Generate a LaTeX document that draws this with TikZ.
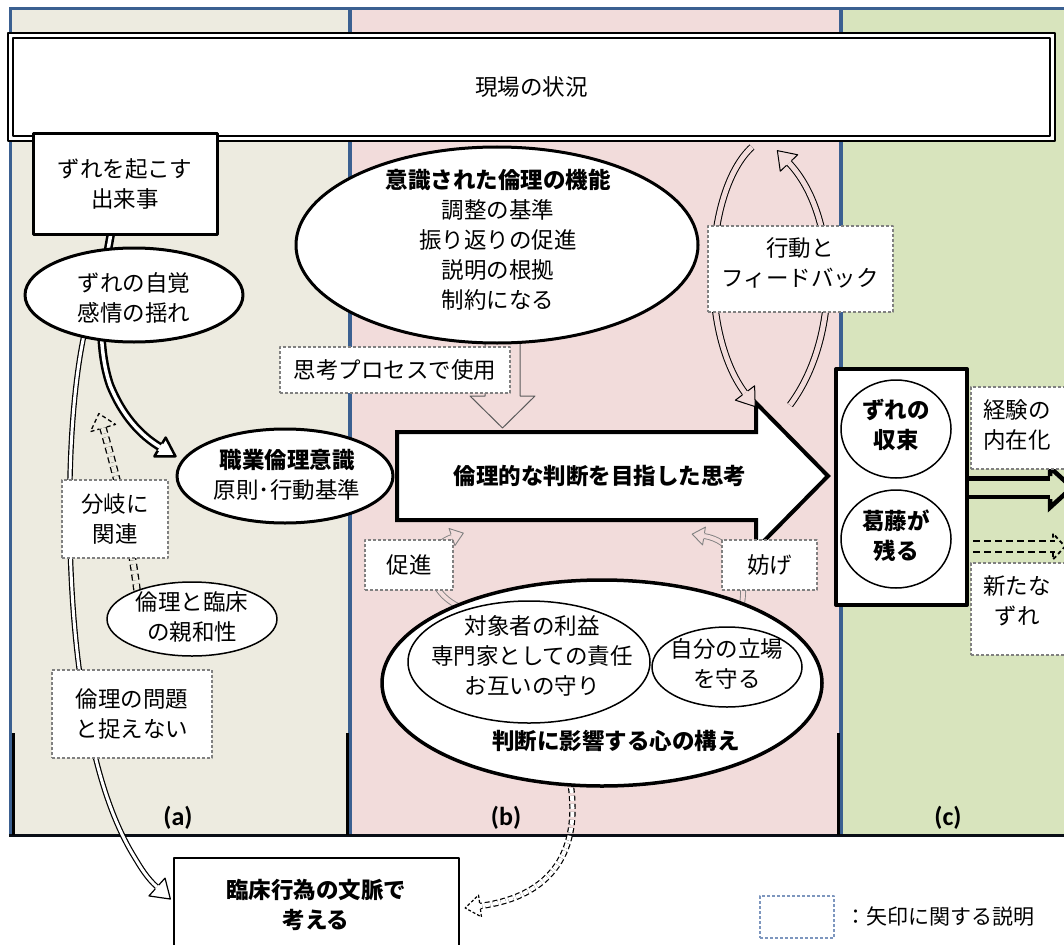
\documentclass[tikz,border=0pt]{standalone}
\usepackage{fontspec}
\setmainfont{Noto Sans CJK JP}
\newfontfamily\labfont{Carlito}
\usetikzlibrary{shapes.geometric}
\definecolor{bgA}{RGB}{237,235,224}
\definecolor{bgB}{RGB}{242,220,219}
\definecolor{bgC}{RGB}{216,228,189}
\definecolor{frameblue}{RGB}{59,96,145}
\definecolor{dashgray}{RGB}{128,128,128}
\definecolor{legblue}{RGB}{125,150,190}
\newcommand\arrhead[7]{\begin{scope}[shift={(#1,#2)},rotate=#3]\path[#7] (0,#6) -- (0,#5) -- (#4,0) -- (0,-#5) -- (0,-#6);\end{scope}}
\begin{document}
\begin{tikzpicture}[x=1pt,y=-1pt,line join=round,
  txt/.style={font=\fontsize{22.5}{30}\selectfont, align=center, inner sep=0pt},
  btxt/.style={font=\fontsize{22.5}{30}\selectfont\bfseries, align=center, inner sep=0pt},
  shp/.style={draw, fill=white, inner sep=0pt},
  ell/.style={shp, ellipse},
  desc/.style={draw=dashgray, dash pattern=on 3pt off 2pt, line width=1.1pt, fill=white, inner sep=0pt},
  lab/.style={font=\labfont\fontsize{26}{28}\selectfont\bfseries, inner sep=0pt}]
\useasboundingbox (0,0) rectangle (1064,944);
\clip (0,0) rectangle (1064,944);
\fill[white] (0,0) rectangle (1064,944);
% panels
\fill[bgA] (10,9) rectangle (350,835);
\fill[bgB] (350,9) rectangle (841,835);
\fill[bgC] (841,9) rectangle (1064,835);
\draw[frameblue, line width=3pt] (9,9) -- (1064,9);
\draw[frameblue, line width=3.5pt] (10.5,9) -- (10.5,835);
\draw[frameblue, line width=3.5pt] (350,9) -- (350,835);
\draw[frameblue, line width=3.5pt] (841,9) -- (841,835);
\draw[black!85!frameblue, line width=3pt] (9,835) -- (1064,835);
\draw[black, line width=3pt] (13,733) -- (13,835);
\draw[black, line width=3pt] (347,733) -- (347,835);
\draw[black, line width=3pt] (838,733) -- (838,835);
% top box
\node[shp, line width=2.5pt, minimum width=1047, minimum height=108, txt] (sit) at (531.5,87) {現場の状況};
\draw[line width=1.2pt] (13,38) rectangle (1050,136);
% gray down arrow
\draw[dashgray!70!black, line width=1pt] (485,340) -- (485,396) -- (470,396) -- (502.5,428) -- (535,396) -- (520,396) -- (520,340);
% arrow A
\draw[line width=2.5pt, double=white, double distance=3.5pt] (112,228) .. controls (98,300) and (98,350) .. (110,385) .. controls (122,415) and (140,435) .. (160,447);
\arrhead{160}{447}{-31}{18}{11}{4.25}{draw, line width=2.5pt, fill=white}
% arrow B
\draw[line width=1.2pt, double=white, double distance=3pt] (84,335) .. controls (66,420) and (66,560) .. (78,660) .. controls (88,740) and (105,810) .. (135,858) .. controls (141,868) and (147,878) .. (157,887);
\arrhead{157}{887}{-42}{18}{12}{2.7}{draw, line width=1.2pt, fill=white}
% arrow C
\draw[line width=1.3pt, double=bgA, double distance=5pt, dash pattern=on 6pt off 4pt] (137,590) .. controls (128,520) and (115,470) .. (103,428);
\arrhead{103}{428}{106}{15}{13}{3.8}{draw, line width=1.3pt, dash pattern=on 4pt off 3pt}
% arrow D
\draw[line width=1.2pt, double=white, double distance=4pt, dash pattern=on 5pt off 3pt] (570,780) .. controls (580,840) and (562,895) .. (480,906);
\arrhead{480}{906}{187.6}{15}{11}{3.2}{draw, line width=1.2pt, dash pattern=on 3pt off 2pt, fill=white}
% promote / hinder arrows
\draw[dashgray, line width=0.9pt, double=bgB, double distance=4pt] (458,606) .. controls (425,590) and (420,548) .. (452,537);
\arrhead{452}{537}{19}{12}{9}{2.9}{draw=dashgray, line width=0.9pt, fill=bgB}
\draw[dashgray, line width=0.9pt, double=bgB, double distance=4pt] (742,604) .. controls (748,565) and (730,540) .. (704,536);
\arrhead{704}{536}{171}{12}{9}{2.9}{draw=dashgray, line width=0.9pt, fill=bgB}
% right arrows
\draw[line width=4.5pt, double=bgC, double distance=14pt] (960,487.5) -- (1052,487.5);
\arrhead{1050}{487.5}{0}{22}{20}{11.5}{draw, line width=4.5pt, fill=bgC, line join=miter}
\draw[line width=1.8pt, double=bgC, double distance=9.5pt, dash pattern=on 7pt off 4pt] (962,546.5) -- (1055,546.5);
\arrhead{1053}{546.5}{0}{12}{13}{6.5}{draw, line width=1.8pt, dash pattern=on 4pt off 3pt}
% big arrow
\draw[line width=4pt, fill=white, line join=miter] (397,432) -- (756,432) -- (756,403) -- (828,476) -- (756,549) -- (756,520) -- (397,520) -- cycle;
\node[btxt] (bigT) at (600,476) {倫理的な判断を目指した思考};
% feedback arcs
\draw[line width=1pt, double=bgB, double distance=5pt] (752,147) .. controls (705,190) and (698,330) .. (745,393);
\arrhead{745}{393}{-53.3}{17}{12}{3.5}{draw, line width=1pt, fill=bgB}
\draw[line width=1pt, double=bgB, double distance=5pt] (790,405) .. controls (842,335) and (838,215) .. (789,163);
\arrhead{789}{163}{133.3}{17}{12}{3.5}{draw, line width=1pt, fill=bgB}
% column (a)
\node[shp, line width=3pt, minimum width=184, minimum height=100, txt] (ev) at (125,184) {ずれを起こす\\出来事};
\node[ell, line width=3pt, minimum width=218, minimum height=94] (aware) at (134,295) {};
\node[txt] (awareT) at (134,298) {ずれの自覚\\感情の揺れ};
\node[ell, line width=3pt, minimum width=216, minimum height=94] (prof) at (285,476) {};
\node[txt] (profT) at (287,475) {\textbf{職業倫理意識}\\原則･行動基準};
\node[ell, line width=1.5pt, minimum width=170, minimum height=74] (rel) at (192,619) {};
\node[txt] (relT) at (192,617) {倫理と臨床\\の親和性};
\node[desc, minimum width=106, minimum height=78, txt] (branch) at (115,519) {分岐に\\関連};
\node[desc, minimum width=160, minimum height=88, txt] (notprob) at (132,714) {倫理の問題\\と捉えない};
\node[shp, line width=2pt, minimum width=285, minimum height=112] (clinic) at (316.5,914) {};
\node[btxt] (clinicT) at (316,905) {臨床行為の文脈で\\考える};
% column (b)
\node[ell, line width=3pt, minimum width=402, minimum height=196] (cons) at (497,245) {};
\node[txt] (consT) at (498,240) {\textbf{意識された倫理の機能}\\調整の基準\\振り返りの促進\\説明の根拠\\制約になる};
\node[desc, minimum width=230, minimum height=46, txt] (think) at (395,370) {思考プロセスで使用};
\node[desc, minimum width=185, minimum height=86] (fb) at (800.5,269) {};
\node[txt] (fbT) at (800,263) {行動と\\フィードバック};
\node[desc, minimum width=88, minimum height=50, txt] (prom) at (409,565) {促進};
\node[desc, minimum width=95, minimum height=50, txt] (hind) at (769.5,565) {妨げ};
\node[ell, line width=3.5pt, minimum width=440, minimum height=206] (mind) at (602,683) {};
\node[ell, line width=1.5pt, minimum width=242, minimum height=122] (in1) at (529,662) {};
\node[txt] (in1T) at (532,656) {対象者の利益\\専門家としての責任\\お互いの守り};
\node[ell, line width=1.5pt, minimum width=150, minimum height=80] (in2) at (727,667) {};
\node[txt] (in2T) at (727,664) {自分の立場\\を守る};
\node[btxt] (mindT) at (616,741) {判断に影響する心の構え};
% column (c)
\node[shp, line width=4pt, minimum width=131, minimum height=236] (res) at (901.5,487) {};
\node[ell, line width=1.5pt, minimum width=110, minimum height=98] (c1) at (896,429) {};
\node[btxt] (c1T) at (896,425) {ずれの\\収束};
\node[ell, line width=1.5pt, minimum width=110, minimum height=98] (c2) at (896,539) {};
\node[btxt] (c2T) at (896,536) {葛藤が\\残る};
\node[desc, minimum width=104, minimum height=82] (intern) at (1023,428) {};
\node[txt] (internT) at (1017,425) {経験の\\内在化};
\node[desc, minimum width=104, minimum height=92] (newd) at (1023,609) {};
\node[txt] (newdT) at (1017,601) {新たな\\ずれ};
% legend
\node[draw=legblue, dash pattern=on 3pt off 2pt, line width=1.1pt, minimum width=74, minimum height=42, inner sep=0pt] (leg) at (797,917) {};
\node[anchor=west, font=\fontsize{21}{26}\selectfont, inner sep=0pt] (legT) at (845,917) {：矢印に関する説明};
% labels
\node[lab] (la) at (178,818) {(a)};
\node[lab] (lb) at (506,818) {(b)};
\node[lab] (lc) at (948,818) {(c)};
\end{tikzpicture}
\end{document}
